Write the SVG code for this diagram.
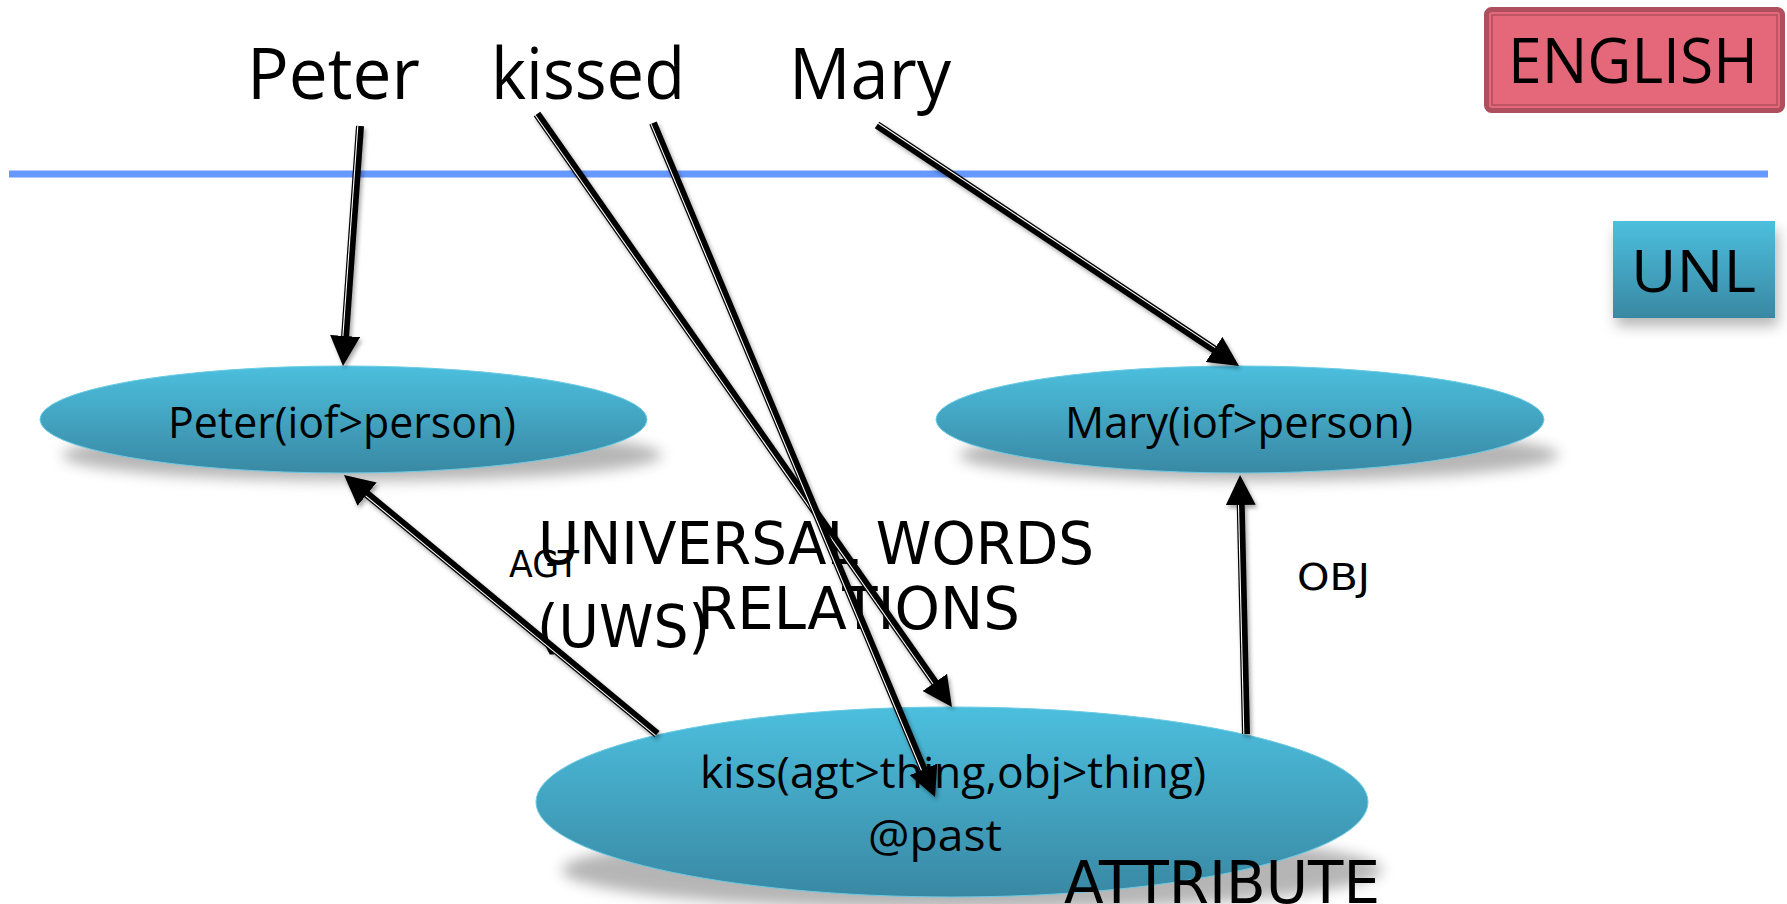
<svg xmlns="http://www.w3.org/2000/svg" width="1787" height="904" viewBox="0 0 1787 904">
  <defs>
    <linearGradient id="tealFill" x1="0" y1="0" x2="0" y2="1">
      <stop offset="0" stop-color="#4CBFDE"/>
      <stop offset="1" stop-color="#3988A3"/>
    </linearGradient>
    <filter id="softShadow" x="-20%" y="-50%" width="140%" height="200%">
      <feGaussianBlur stdDeviation="7"/>
    </filter>
    <filter id="lineShadow" x="-10%" y="-10%" width="120%" height="120%">
      <feDropShadow dx="2" dy="3" stdDeviation="2" flood-color="#000" flood-opacity="0.35"/>
    </filter>
    <marker id="head" markerUnits="userSpaceOnUse" markerWidth="30" markerHeight="30" viewBox="0 0 30 30" refX="10" refY="15" orient="auto">
      <path d="M0,0 L30,15 L0,30 Z" fill="#000"/>
    </marker>
    <style>
      .word { font-family: "Open Sans", "Noto Sans", sans-serif; font-size: 72px; fill: #000; }
      .tag { font-family: "Open Sans", "Noto Sans", sans-serif; fill: #000; }
      .uw { font-family: "Open Sans", "Noto Sans", sans-serif; font-size: 43px; fill: #000; }
      .note { font-family: "DejaVu Sans", "Noto Sans", sans-serif; font-size: 58px; fill: #000; }
      .rel { font-family: "DejaVu Sans", "Noto Sans", sans-serif; font-size: 37px; fill: #000; }
      .node { fill: url(#tealFill); stroke: #6ACBE4; stroke-width: 1; }
      .shadow { fill: #7a7a7a; opacity: 0.55; filter: url(#softShadow); }
      .wire { stroke: #000; stroke-width: 8; fill: none; marker-end: url(#head); }
      .gap { stroke: #fff; stroke-width: 1.1; fill: none; }
    </style>
  </defs>

  <rect width="1787" height="904" fill="#fff"/>

  <!-- source sentence -->
  <g id="sentence">
    <text class="word" x="247" y="99" textLength="173" lengthAdjust="spacingAndGlyphs">Peter</text>
    <text class="word" x="491" y="99" textLength="194" lengthAdjust="spacingAndGlyphs">kissed</text>
    <text class="word" x="789" y="99" textLength="162" lengthAdjust="spacingAndGlyphs">Mary</text>
  </g>

  <!-- language badges -->
  <g id="english-badge">
    <rect x="1486.5" y="9.5" width="296" height="101" rx="5" fill="#E46879" stroke="#AD4F5C" stroke-width="5"/>
    <rect x="1492" y="15" width="285" height="90" fill="none" stroke="#B04F5D" stroke-width="1.5"/>
    <text class="tag" x="1508" y="83" font-size="63" textLength="250" lengthAdjust="spacingAndGlyphs">ENGLISH</text>
  </g>
  <g id="unl-badge">
    <rect x="1616" y="230" width="162" height="96" class="shadow"/>
    <rect x="1613" y="221" width="162" height="97" fill="url(#tealFill)"/>
    <text class="tag" x="1631" y="292" font-size="59" textLength="125" lengthAdjust="spacingAndGlyphs">UNL</text>
  </g>

  <!-- level separator -->
  <line id="separator" x1="9" y1="174" x2="1768" y2="174" stroke="#6699FF" stroke-width="7"/>

  <!-- universal word nodes -->
  <g id="node-peter">
    <ellipse class="shadow" cx="362" cy="455" rx="300" ry="26"/>
    <ellipse class="node" cx="343.5" cy="419.5" rx="303.5" ry="53.5"/>
    <text class="uw" x="168" y="438" textLength="348" lengthAdjust="spacingAndGlyphs">Peter(iof&gt;person)</text>
  </g>
  <g id="node-mary">
    <ellipse class="shadow" cx="1259" cy="455" rx="300" ry="26"/>
    <ellipse class="node" cx="1240" cy="419.5" rx="304" ry="53.5"/>
    <text class="uw" x="1065" y="438" textLength="348" lengthAdjust="spacingAndGlyphs">Mary(iof&gt;person)</text>
  </g>
  <g id="node-kiss">
    <ellipse class="shadow" cx="972" cy="870" rx="410" ry="40"/>
    <ellipse class="node" cx="952" cy="802" rx="416" ry="95"/>
    <text class="uw" x="700" y="788" textLength="506" lengthAdjust="spacingAndGlyphs">kiss(agt&gt;thing,obj&gt;thing)</text>
    <text class="uw" x="868" y="851" textLength="134" lengthAdjust="spacingAndGlyphs">@past</text>
  </g>

  <!-- annotations -->
  <g id="labels">
    <text class="note" x="538" y="564" textLength="556" lengthAdjust="spacingAndGlyphs">UNIVERSAL WORDS</text>
    <text class="note" x="537" y="647" textLength="173" lengthAdjust="spacingAndGlyphs">(UWS)</text>
    <text class="note" x="697" y="629" textLength="323" lengthAdjust="spacingAndGlyphs">RELATIONS</text>
    <text class="note" x="1064" y="903" font-size="63" textLength="316" lengthAdjust="spacingAndGlyphs">ATTRIBUTE</text>
    <text class="rel" x="509" y="577" textLength="70" lengthAdjust="spacingAndGlyphs">AGT</text>
    <text class="rel" x="1297" y="590" textLength="73" lengthAdjust="spacingAndGlyphs">OBJ</text>
  </g>

  <!-- connectors: heavy black rules with a thin inner white rule -->
  <g id="connectors" filter="url(#lineShadow)">
    <!-- Peter -> Peter(iof>person) -->
    <line class="wire" x1="360" y1="126" x2="344.4" y2="346"/>
    <line class="gap" x1="357.8" y1="125.9" x2="342.9" y2="336"/>
    <!-- kissed -> kiss node (upper edge) -->
    <line class="wire" x1="537" y1="114" x2="940.5" y2="690.6"/>
    <line class="gap" x1="535.2" y1="115.3" x2="933" y2="683.7"/>
    <!-- kissed -> kiss node (centre) -->
    <line class="wire" x1="653" y1="123" x2="927.3" y2="778.6"/>
    <line class="gap" x1="651" y1="123.85" x2="921.4" y2="770.2"/>
    <!-- Mary -> Mary(iof>person) -->
    <line class="wire" x1="877" y1="125" x2="1222.4" y2="354.9"/>
    <line class="gap" x1="878.2" y1="123.2" x2="1215.2" y2="347.6"/>
    <!-- agt relation -->
    <line class="wire" x1="657" y1="734" x2="359.4" y2="487.8"/>
    <line class="gap" x1="655.6" y1="735.7" x2="365.7" y2="495.8"/>
    <!-- obj relation -->
    <line class="wire" x1="1246" y1="734" x2="1240.5" y2="495"/>
    <line class="gap" x1="1243.8" y1="734" x2="1238.5" y2="505"/>
  </g>
</svg>
